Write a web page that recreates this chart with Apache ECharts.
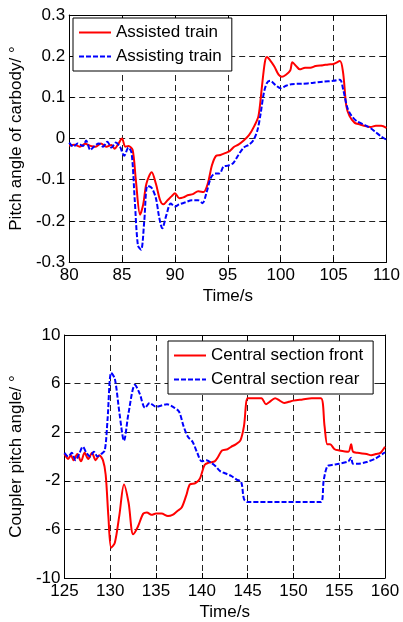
<!DOCTYPE html>
<html>
<head>
<meta charset="utf-8">
<script src="https://cdn.jsdelivr.net/npm/echarts@6/dist/echarts.min.js"></script>
<style>
  html, body { margin: 0; padding: 0; background: #fff; }
  #main { width: 403px; height: 622px; }
</style>
</head>
<body>
<div id="main"></div>
<script>
// top chart: pitch angle of carbody
var tAssisted = [80,80.5,81,81.5,82,82.5,83,83.5,84,84.3,84.6,85,85.3,85.6,86,86.3,86.7,87,87.3,87.8,88.2,88.6,88.9,89.3,89.7,90,90.4,90.8,91.2,91.7,92.2,92.7,93.1,93.5,93.9,94.3,94.8,95.2,95.6,96,96.5,97,97.5,97.9,98.2,98.5,98.7,99,99.4,99.8,100.1,100.5,100.9,101.1,101.5,101.8,102.3,102.8,103.3,104,104.5,105,105.6,105.9,106.2,106.5,107,107.5,108,108.5,109,109.5,110];
var assisted = [-0.018,-0.015,-0.02,-0.013,-0.018,-0.02,-0.012,-0.02,-0.016,-0.025,-0.015,0.0,-0.02,-0.018,-0.028,-0.1,-0.185,-0.16,-0.11,-0.082,-0.11,-0.15,-0.16,-0.15,-0.14,-0.133,-0.145,-0.143,-0.138,-0.135,-0.128,-0.13,-0.11,-0.065,-0.042,-0.04,-0.035,-0.03,-0.02,-0.015,-0.005,0.008,0.03,0.055,0.12,0.185,0.198,0.19,0.175,0.155,0.15,0.155,0.165,0.185,0.175,0.168,0.172,0.172,0.176,0.178,0.18,0.181,0.188,0.16,0.08,0.055,0.038,0.034,0.03,0.028,0.031,0.031,0.026];
var tAssisting = [80,80.4,80.8,81.3,81.6,82,82.4,82.8,83.2,83.6,84,84.4,84.8,85.2,85.6,85.9,86.2,86.5,86.8,87.1,87.4,87.8,88.2,88.5,88.8,89.2,89.6,90,90.4,91,91.6,92.2,92.6,93,93.4,93.8,94.2,94.6,95,95.5,96,96.5,97,97.4,97.8,98.1,98.4,98.7,99,99.5,100,100.5,101,102,103,104,105,105.6,105.9,106.3,106.7,107.2,108,108.5,109,109.5,110];
var assisting = [-0.01,-0.02,-0.012,-0.018,-0.005,-0.028,-0.018,-0.012,-0.02,-0.008,-0.022,-0.01,-0.02,-0.042,-0.022,-0.035,-0.15,-0.26,-0.27,-0.2,-0.115,-0.12,-0.145,-0.19,-0.218,-0.185,-0.158,-0.165,-0.16,-0.155,-0.15,-0.15,-0.157,-0.13,-0.095,-0.085,-0.085,-0.068,-0.066,-0.06,-0.04,-0.022,-0.015,-0.005,0.02,0.06,0.11,0.135,0.14,0.13,0.122,0.128,0.132,0.133,0.135,0.138,0.14,0.143,0.12,0.075,0.055,0.042,0.032,0.025,0.015,0.005,-0.003];

// bottom chart: coupler pitch angle
var tFront = [125,125.4,125.7,126,126.4,126.8,127.2,127.6,128,128.4,128.8,129.2,129.5,129.8,130.1,130.5,131,131.5,132,132.5,133,133.6,134,134.5,135,135.6,136.3,136.8,137.3,137.8,138.3,138.7,139.3,139.8,140.3,140.8,141.4,141.8,142.2,142.8,143.2,143.7,144.2,144.6,145,145.5,146.5,147,147.4,148,148.5,149,149.5,150,151,152,153,153.4,153.7,154,154.5,155,156,156.3,156.5,157,158,158.5,159,159.5,160];
var front = [0.2,-0.2,0.1,-0.3,0.2,-0.4,0.3,-0.2,0.3,-0.3,0.1,-0.3,-1.5,-5,-7.5,-7.1,-4.8,-2.3,-3.8,-6.4,-5.8,-4.7,-4.6,-4.8,-4.7,-4.7,-4.9,-4.8,-4.5,-4.2,-3.2,-2.3,-2.2,-1.8,-0.7,-0.5,-0.4,0,0.5,0.6,0.8,1.0,1.3,2.5,4.8,4.8,4.8,4.3,4.5,4.8,4.6,4.4,4.5,4.6,4.7,4.8,4.8,2.5,1.0,1.0,0.6,0.5,0.4,1.0,0.4,0.3,0.2,0.1,0.2,0.3,0.8];
var tRear = [125,125.4,125.8,126.2,126.6,127,127.4,127.8,128.2,128.6,129,129.4,129.7,130.1,130.5,131,131.5,132,132.7,133.2,133.8,134.3,135,135.6,136.2,136.8,137.5,138,138.5,139,139.5,140,140.5,141,141.5,142,142.6,143.2,143.8,144.3,144.6,145,153,153.3,153.7,154.2,155,156,156.3,156.5,157,158,159,160];
var rear = [0.3,0,0.3,-0.3,0.2,0.8,0.3,0,0.4,0,0.2,0.5,3,6.9,6.4,3.6,1.3,3.6,5.9,5.2,4.0,4.4,4.1,4.2,4.3,4.1,3.7,2.5,1.6,1.2,0.3,-0.4,-0.3,-0.5,-0.8,-1.2,-1.4,-1.6,-1.9,-2.1,-3.5,-3.75,-3.75,-2,-0.8,-0.7,-0.6,-0.4,-0.1,-0.6,-0.6,-0.45,-0.15,0.35];

function pairs(t, v) {
  return t.map(function (x, i) { return [x, v[i]]; });
}

var font = 'Liberation Sans, Arial, sans-serif';
var fs = 17;
var gridDash = { color: '#222', width: 1, type: [6, 4] };

function mainX(idx, min, max, interval) {
  return {
    type: 'value', gridIndex: idx, min: min, max: max, interval: interval,
    name: 'Time/s', nameLocation: 'middle', nameGap: 26,
    nameTextStyle: { color: '#000', fontSize: fs, fontFamily: font },
    axisLine: { onZero: false, lineStyle: { color: '#000', width: 1 } },
    axisTick: { inside: true, length: 5, lineStyle: { color: '#000' } },
    axisLabel: { color: '#000', fontSize: fs, fontFamily: font, margin: 5 },
    splitLine: { show: true, lineStyle: gridDash }
  };
}
function mainY(idx, min, max, interval, name, fmt) {
  return {
    type: 'value', gridIndex: idx, min: min, max: max, interval: interval,
    name: name, nameLocation: 'middle', nameGap: 39, nameRotate: 90,
    nameTextStyle: { color: '#000', fontSize: fs, fontFamily: font },
    axisLine: { show: true, onZero: false, lineStyle: { color: '#000', width: 1 } },
    axisTick: { inside: true, length: 5, lineStyle: { color: '#000' } },
    axisLabel: { color: '#000', fontSize: fs, fontFamily: font, margin: 4, formatter: fmt },
    splitLine: { show: true, lineStyle: gridDash }
  };
}
function mirror(kind, idx, min, max, interval) {
  return {
    type: 'value', gridIndex: idx, min: min, max: max, interval: interval,
    position: kind === 'x' ? 'top' : 'right',
    axisLine: { show: true, onZero: false, lineStyle: { color: '#000', width: 1 } },
    axisTick: { show: true, inside: true, length: 5, lineStyle: { color: '#000' } },
    axisLabel: { show: false },
    splitLine: { show: false }
  };
}
function legendBox(names, left, top) {
  return {
    data: names, left: left, top: top, orient: 'vertical', itemGap: 7,
    itemWidth: 32, itemHeight: 14, padding: [6, 10, 6, 5],
    itemStyle: { opacity: 0 },
    backgroundColor: '#fff', borderColor: '#000', borderWidth: 1, borderRadius: 0,
    textStyle: { color: '#000', fontSize: fs, fontFamily: font }
  };
}

var chart = echarts.init(document.getElementById('main'));

var option = {
  backgroundColor: '#fff',
  animation: false,
  grid: [
    { left: 68, right: 16, top: 15, height: 247 },
    { left: 63, right: 18, top: 335, height: 245 }
  ],
  xAxis: [
    mainX(0, 80, 110, 5),
    mainX(1, 125, 160, 5),
    mirror('x', 0, 80, 110, 5),
    mirror('x', 1, 125, 160, 5)
  ],
  yAxis: [
    mainY(0, -0.3, 0.3, 0.1, 'Pitch angle of carbody/ °', function (v) { return (Math.round(v * 10) / 10).toString(); }),
    mainY(1, -10, 10, 4, 'Coupler pitch angle/ °', function (v) { return v.toString(); }),
    mirror('y', 0, -0.3, 0.3, 0.1),
    mirror('y', 1, -10, 10, 4)
  ],
  legend: [
    legendBox(['Assisted train', 'Assisting train'], 73, 18),
    legendBox(['Central section front', 'Central section rear'], 168, 341)
  ],
  series: [
    {
      name: 'Assisted train', type: 'line', xAxisIndex: 0, yAxisIndex: 0,
      data: pairs(tAssisted, assisted), symbol: 'none', smooth: 0.3,
      lineStyle: { color: '#ff0000', width: 2 }, itemStyle: { color: '#ff0000' }
    },
    {
      name: 'Assisting train', type: 'line', xAxisIndex: 0, yAxisIndex: 0,
      data: pairs(tAssisting, assisting), symbol: 'none', smooth: 0.3,
      lineStyle: { color: '#0000ff', width: 2, type: [5, 2] }, itemStyle: { color: '#0000ff' }
    },
    {
      name: 'Central section front', type: 'line', xAxisIndex: 1, yAxisIndex: 1,
      data: pairs(tFront, front), symbol: 'none', smooth: 0.3,
      lineStyle: { color: '#ff0000', width: 2 }, itemStyle: { color: '#ff0000' }
    },
    {
      name: 'Central section rear', type: 'line', xAxisIndex: 1, yAxisIndex: 1,
      data: pairs(tRear, rear), symbol: 'none', smooth: 0.3,
      lineStyle: { color: '#0000ff', width: 2, type: [5, 2] }, itemStyle: { color: '#0000ff' }
    }
  ]
};

chart.setOption(option);
</script>
</body>
</html>
